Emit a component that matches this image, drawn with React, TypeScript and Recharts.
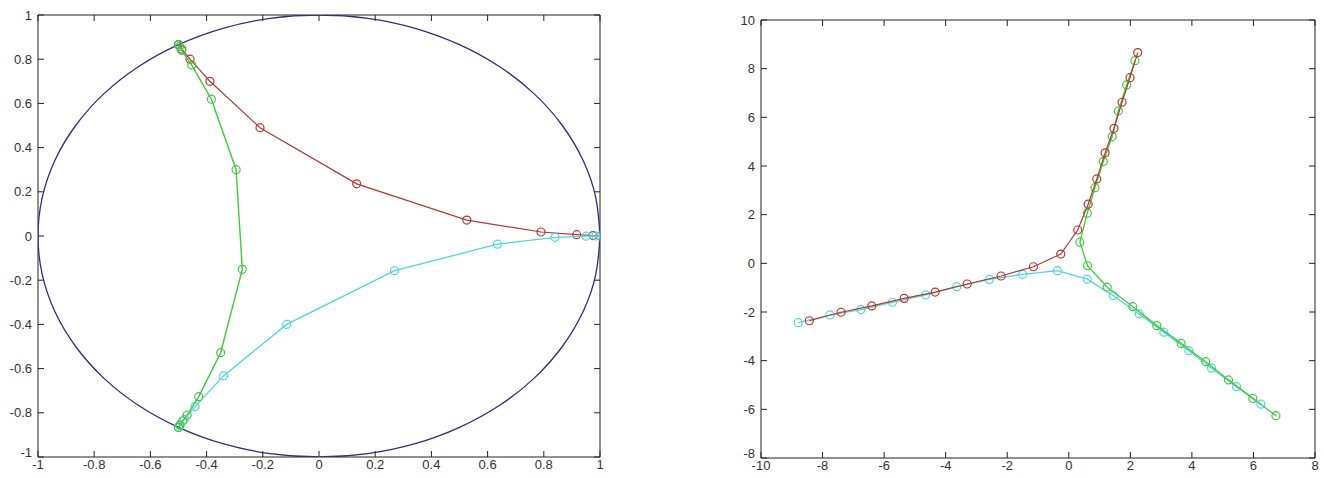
import { ScatterChart, Scatter, XAxis, YAxis } from "recharts";

// ---- left plot: unit circle and three paths ----
const unitCircle = [
  { x: 1, y: 0 }, { x: 0.985, y: 0.174 }, { x: 0.94, y: 0.342 }, { x: 0.866, y: 0.5 },
  { x: 0.766, y: 0.643 }, { x: 0.643, y: 0.766 }, { x: 0.5, y: 0.866 }, { x: 0.342, y: 0.94 },
  { x: 0.174, y: 0.985 }, { x: 0, y: 1 }, { x: -0.174, y: 0.985 }, { x: -0.342, y: 0.94 },
  { x: -0.5, y: 0.866 }, { x: -0.643, y: 0.766 }, { x: -0.766, y: 0.643 }, { x: -0.866, y: 0.5 },
  { x: -0.94, y: 0.342 }, { x: -0.985, y: 0.174 }, { x: -1, y: 0 }, { x: -0.985, y: -0.174 },
  { x: -0.94, y: -0.342 }, { x: -0.866, y: -0.5 }, { x: -0.766, y: -0.643 }, { x: -0.643, y: -0.766 },
  { x: -0.5, y: -0.866 }, { x: -0.342, y: -0.94 }, { x: -0.174, y: -0.985 }, { x: 0, y: -1 },
  { x: 0.174, y: -0.985 }, { x: 0.342, y: -0.94 }, { x: 0.5, y: -0.866 }, { x: 0.643, y: -0.766 },
  { x: 0.766, y: -0.643 }, { x: 0.866, y: -0.5 }, { x: 0.94, y: -0.342 }, { x: 0.985, y: -0.174 },
  { x: 1, y: 0 },
];

const leftRed = [
  { x: 1, y: 0 }, { x: 0.975, y: 0.002 }, { x: 0.917, y: 0.006 }, { x: 0.79, y: 0.018 },
  { x: 0.526, y: 0.072 }, { x: 0.134, y: 0.236 }, { x: -0.21, y: 0.49 }, { x: -0.388, y: 0.7 },
  { x: -0.459, y: 0.8 }, { x: -0.488, y: 0.845 }, { x: -0.5, y: 0.866 },
];

const leftGreen = [
  { x: -0.5, y: 0.866 }, { x: -0.496, y: 0.858 }, { x: -0.489, y: 0.84 }, { x: -0.453, y: 0.774 },
  { x: -0.383, y: 0.619 }, { x: -0.295, y: 0.3 }, { x: -0.273, y: -0.151 }, { x: -0.35, y: -0.528 },
  { x: -0.428, y: -0.727 }, { x: -0.469, y: -0.81 }, { x: -0.485, y: -0.837 }, { x: -0.495, y: -0.856 },
  { x: -0.5, y: -0.866 },
];

const leftCyan = [
  { x: -0.5, y: -0.866 }, { x: -0.495, y: -0.855 }, { x: -0.48, y: -0.83 }, { x: -0.441, y: -0.772 },
  { x: -0.34, y: -0.633 }, { x: -0.115, y: -0.4 }, { x: 0.269, y: -0.157 }, { x: 0.635, y: -0.037 },
  { x: 0.84, y: -0.006 }, { x: 0.95, y: -0.001 }, { x: 0.985, y: 0 }, { x: 1, y: 0 },
];

const leftTicks = [-1, -0.8, -0.6, -0.4, -0.2, 0, 0.2, 0.4, 0.6, 0.8, 1];

// ---- right plot: three trajectories ----
const rightRed = [
  { x: -8.43, y: -2.36 }, { x: -7.4, y: -2.01 }, { x: -6.4, y: -1.75 }, { x: -5.35, y: -1.44 },
  { x: -4.34, y: -1.18 }, { x: -3.3, y: -0.85 }, { x: -2.2, y: -0.52 }, { x: -1.15, y: -0.14 },
  { x: -0.26, y: 0.38 }, { x: 0.29, y: 1.37 }, { x: 0.63, y: 2.43 }, { x: 0.91, y: 3.47 },
  { x: 1.18, y: 4.54 }, { x: 1.47, y: 5.55 }, { x: 1.73, y: 6.62 }, { x: 1.99, y: 7.63 },
  { x: 2.24, y: 8.66 },
];

const rightGreen = [
  { x: 2.15, y: 8.33 }, { x: 1.88, y: 7.33 }, { x: 1.61, y: 6.26 }, { x: 1.41, y: 5.21 },
  { x: 1.12, y: 4.18 }, { x: 0.85, y: 3.11 }, { x: 0.6, y: 2.06 }, { x: 0.36, y: 0.87 },
  { x: 0.61, y: -0.1 }, { x: 1.25, y: -0.98 }, { x: 2.08, y: -1.78 }, { x: 2.86, y: -2.56 },
  { x: 3.65, y: -3.29 }, { x: 4.45, y: -4.04 }, { x: 5.19, y: -4.79 }, { x: 5.98, y: -5.55 },
  { x: 6.73, y: -6.26 },
];

const rightCyan = [
  { x: -8.79, y: -2.44 }, { x: -7.76, y: -2.12 }, { x: -6.75, y: -1.9 }, { x: -5.73, y: -1.6 },
  { x: -4.65, y: -1.3 }, { x: -3.64, y: -0.96 }, { x: -2.58, y: -0.66 }, { x: -1.5, y: -0.45 },
  { x: -0.37, y: -0.3 }, { x: 0.6, y: -0.65 }, { x: 1.45, y: -1.33 }, { x: 2.29, y: -2.08 },
  { x: 3.09, y: -2.83 }, { x: 3.9, y: -3.59 }, { x: 4.64, y: -4.31 }, { x: 5.45, y: -5.07 },
  { x: 6.24, y: -5.79 },
];

const rightXTicks = [-10, -8, -6, -4, -2, 0, 2, 4, 6, 8];
const rightYTicks = [-8, -6, -4, -2, 0, 2, 4, 6, 8, 10];

const RED = "#b23a34";
const GREEN = "#3fc93f";
const CYAN = "#4fd6dc";
const NAVY = "#2e2e80";
const AXIS = "#222";

const FONT = "Liberation Sans, Arial, sans-serif";
const tickStyle = { fontSize: 13, fill: "#333", fontFamily: FONT };

const openCircle = (color: string) => (props: any) => {
  const { cx, cy } = props;
  if (cx == null || cy == null) return <g />;
  return <circle cx={cx} cy={cy} r={4} fill="none" stroke={color} strokeWidth={1.2} />;
};

const noShape = () => <g />;

// y tick label; the lowest one sits a little above its tick, like the original
const yTick = (min: number) => (props: any) => {
  const { x, y, payload } = props;
  const lift = payload.value === min ? -5 : 0;
  return (
    <text
      x={x}
      y={y + lift}
      dy="0.355em"
      textAnchor="end"
      fontSize={13}
      fill="#333"
      fontFamily={FONT}
    >
      {payload.value}
    </text>
  );
};

type Pt = { x: number; y: number };

type Series = { data: Pt[]; color: string; markers: boolean; width: number; smooth?: boolean };

function Frame({
  width,
  height,
  margin,
  xDomain,
  yDomain,
  xTicks,
  yTicks,
  series,
}: {
  width: number;
  height: number;
  margin: { top: number; right: number; bottom: number; left: number };
  xDomain: [number, number];
  yDomain: [number, number];
  xTicks: number[];
  yTicks: number[];
  series: Series[];
}) {
  const blank = () => "";
  return (
    <ScatterChart width={width} height={height} margin={margin}>
      <XAxis
        type="number"
        dataKey="x"
        domain={xDomain}
        ticks={xTicks}
        allowDataOverflow
        interval={0}
        height={20}
        stroke={AXIS}
        tickSize={-6}
        tickMargin={9}
        tick={tickStyle}
        tickLine={{ stroke: AXIS }}
      />
      <XAxis
        xAxisId="top"
        orientation="top"
        mirror
        type="number"
        dataKey="x"
        domain={xDomain}
        ticks={xTicks}
        allowDataOverflow
        interval={0}
        stroke={AXIS}
        tickSize={6}
        tickFormatter={blank}
        tickLine={{ stroke: AXIS }}
      />
      <YAxis
        type="number"
        dataKey="y"
        domain={yDomain}
        ticks={yTicks}
        allowDataOverflow
        interval={0}
        width={30}
        stroke={AXIS}
        tickSize={-6}
        tickMargin={12}
        tick={yTick(yDomain[0])}
        tickLine={{ stroke: AXIS }}
      />
      <YAxis
        yAxisId="right"
        orientation="right"
        mirror
        type="number"
        dataKey="y"
        domain={yDomain}
        ticks={yTicks}
        allowDataOverflow
        interval={0}
        stroke={AXIS}
        tickSize={6}
        tickFormatter={blank}
        tickLine={{ stroke: AXIS }}
      />
      {series.map((s, i) => (
        <Scatter
          key={i}
          data={s.data}
          line={{ stroke: s.color, strokeWidth: s.width }}
          lineJointType={s.smooth ? "natural" : "linear"}
          shape={s.markers ? openCircle(s.color) : noShape}
          isAnimationActive={false}
        />
      ))}
    </ScatterChart>
  );
}

export default function App() {
  return (
    <div
      style={{
        position: "absolute",
        left: 0,
        top: 0,
        width: 1324,
        height: 478,
        background: "#fff",
        overflow: "hidden",
      }}
    >
      <div style={{ position: "absolute", left: 0, top: 0 }}>
        <Frame
          width={620}
          height={478}
          margin={{ top: 15, right: 20, bottom: 1, left: 8 }}
          xDomain={[-1, 1]}
          yDomain={[-1, 1]}
          xTicks={leftTicks}
          yTicks={leftTicks}
          series={[
            { data: unitCircle, color: NAVY, markers: false, width: 1.3, smooth: true },
            { data: leftRed, color: RED, markers: true, width: 1.2 },
            { data: leftCyan, color: CYAN, markers: true, width: 1.3 },
            { data: leftGreen, color: GREEN, markers: true, width: 1.4 },
          ]}
        />
      </div>
      <div style={{ position: "absolute", left: 700, top: 0 }}>
        <Frame
          width={624}
          height={478}
          margin={{ top: 20, right: 9, bottom: 0, left: 31 }}
          xDomain={[-10, 8]}
          yDomain={[-8, 10]}
          xTicks={rightXTicks}
          yTicks={rightYTicks}
          series={[
            { data: rightCyan, color: CYAN, markers: true, width: 1.3 },
            { data: rightGreen, color: GREEN, markers: true, width: 1.3 },
            { data: rightRed, color: RED, markers: true, width: 1.2 },
          ]}
        />
      </div>
    </div>
  );
}
